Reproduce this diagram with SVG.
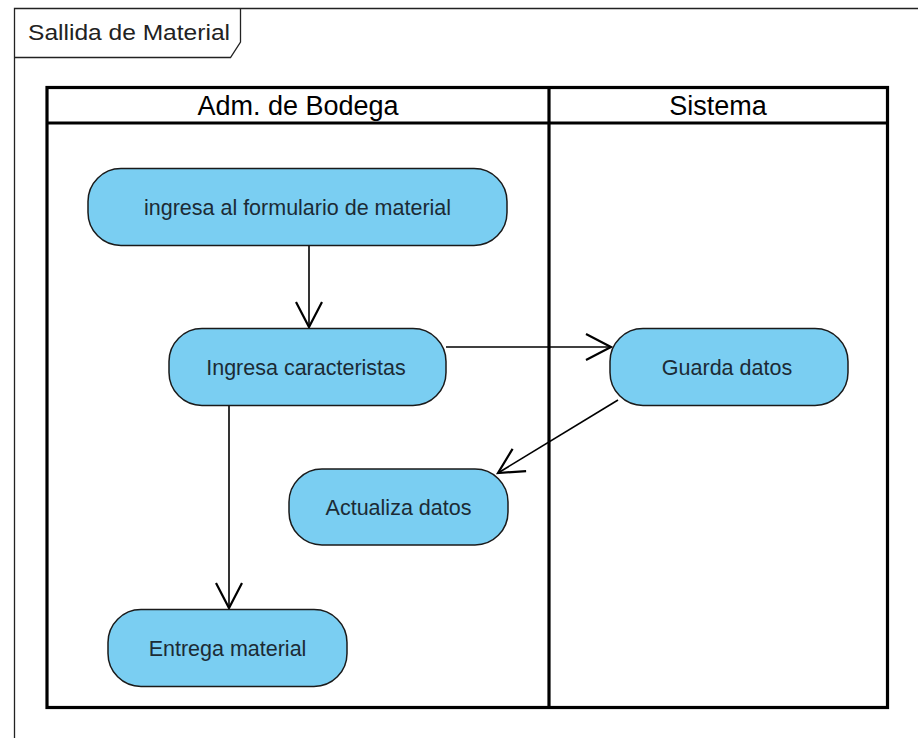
<svg xmlns="http://www.w3.org/2000/svg" width="918" height="738" viewBox="0 0 918 738">
<style>
.frame{fill:none;stroke:#222;stroke-width:1.3}
.pool{fill:none;stroke:#000;stroke-width:3.2}
.node rect{fill:#7ACEF2;stroke:#1a1a1a;stroke-width:1.5}
.node text{font-family:"Liberation Sans",Arial,sans-serif;font-size:21.5px;fill:#1c2b35;text-anchor:middle}
.hdr{font-family:"Liberation Sans",Arial,sans-serif;font-size:27px;fill:#000;text-anchor:middle}
.title{font-family:"Liberation Sans",Arial,sans-serif;font-size:22px;fill:#222}
.conn line{stroke:#000;stroke-width:1.6;fill:none}
</style>
<defs>
<marker id="arr" markerUnits="userSpaceOnUse" markerWidth="40" markerHeight="40" viewBox="-30 -20 40 40" refX="0" refY="0" orient="auto" overflow="visible">
<path d="M-25,-13 L0,0 L-25,13" fill="none" stroke="#000" stroke-width="2.2"/>
</marker>
</defs>
<rect width="918" height="738" fill="#fff"/>
<g id="frame">
<path class="frame" d="M14.5,738 V8.5 H918"/>
<path class="frame" d="M240.5,8.5 V42 L230.5,57.5 H14.5"/>
<text class="title" x="28" y="40" textLength="202" lengthAdjust="spacingAndGlyphs">Sallida de Material</text>
</g>
<g id="pool">
<rect class="pool" x="47" y="87.5" width="840.5" height="620"/>
<line class="pool" x1="47" y1="123" x2="887.5" y2="123"/>
<line class="pool" x1="549" y1="87.5" x2="549" y2="707.5"/>
<text class="hdr" x="298" y="115">Adm. de Bodega</text>
<text class="hdr" x="718" y="115">Sistema</text>
</g>
<g class="conn" id="connectors">
<line x1="309" y1="245" x2="309" y2="327" marker-end="url(#arr)"/>
<line x1="446" y1="347" x2="611" y2="347" marker-end="url(#arr)"/>
<line x1="618" y1="400" x2="498" y2="473" marker-end="url(#arr)"/>
<line x1="229" y1="405" x2="229" y2="608" marker-end="url(#arr)"/>
</g>
<g class="node" id="n_ingresa_formulario">
<rect x="88" y="168.5" width="419" height="77" rx="33"/>
<text x="297.5" y="215">ingresa al formulario de material</text>
</g>
<g class="node" id="n_ingresa_caracteristas">
<rect x="169" y="328.5" width="277" height="77" rx="33"/>
<text x="306" y="375">Ingresa caracteristas</text>
</g>
<g class="node" id="n_guarda_datos">
<rect x="610" y="328.5" width="238" height="77" rx="33"/>
<text x="727" y="375">Guarda datos</text>
</g>
<g class="node" id="n_actualiza_datos">
<rect x="289" y="469" width="219" height="76" rx="33"/>
<text x="398.5" y="515">Actualiza datos</text>
</g>
<g class="node" id="n_entrega_material">
<rect x="108" y="609.5" width="239" height="77" rx="33"/>
<text x="227.5" y="656">Entrega material</text>
</g>
</svg>
